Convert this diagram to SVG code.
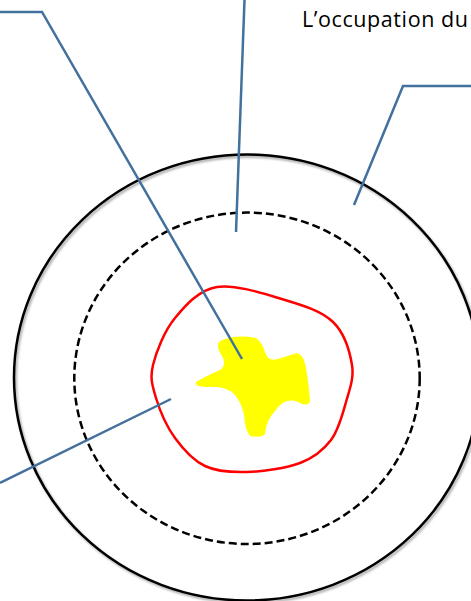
<svg xmlns="http://www.w3.org/2000/svg" width="471" height="601" viewBox="0 0 471 601">
  <defs>
    <filter id="shadow" x="-10%" y="-10%" width="120%" height="120%">
      <feDropShadow dx="1.5" dy="2" stdDeviation="1.2" flood-color="#000" flood-opacity="0.35"/>
    </filter>
  </defs>
  <style>
    .outer { fill: none; stroke: #000; stroke-width: 2.5; }
    .dashed { fill: none; stroke: #000; stroke-width: 2.5; stroke-dasharray: 8 4; }
    .zone { fill: none; stroke: #ff0000; stroke-width: 2.5; }
    .blob { fill: #ffff00; stroke: none; }
    .leader { fill: none; stroke: #41719c; stroke-width: 2.5; stroke-linejoin: miter; }
    .label { font-family: "Open Sans", "Liberation Sans", sans-serif; font-size: 21.5px; fill: #000; }
  </style>
  <rect width="471" height="601" fill="#fff"/>

  <g id="outer-circle">
    <ellipse class="outer" cx="247" cy="377.5" rx="233" ry="223" filter="url(#shadow)"/>
  </g>

  <g id="dashed-circle">
    <ellipse class="dashed" cx="247" cy="378.3" rx="172.7" ry="165.7"/>
  </g>

  <g id="red-zone">
    <path class="zone" d="M217 287 C235.3 284 265.7 294.2 285 300 C304.3 305.8 321.8 311.2 333 322 C344.2 332.8 349.8 351.7 352 365 C354.2 378.3 349.5 389.5 346 402 C342.5 414.5 338.7 429.8 331 440 C323.3 450.2 314 457.7 300 463 C286 468.3 262.8 471.5 247 472 C231.2 472.5 217 471.7 205 466 C193 460.3 183.2 449.3 175 438 C166.8 426.7 159.7 410.2 156 398 C152.3 385.8 149.8 378.3 153 365 C156.2 351.7 164.3 331 175 318 C185.7 305 198.7 290 217 287 Z"/>
  </g>

  <g id="yellow-blob">
    <path class="blob" d="M220 341 Q236 334 256 338 Q262 342 265 352 Q268 362 278 359 L297 353 Q304 355 306 368 Q309 385 310 402 Q307 407 298 402 Q285 397 276 410 Q266 420 265 434 Q262 438 250 436 Q245 430 244 415 Q241 400 232 392 Q222 386 208 387 Q194 387 196 382 Q204 377 220 370 Q227 365 222 356 Q215 345 220 341 Z"/>
  </g>

  <g id="label-top-right">
    <text class="label" x="302" y="26.5" textLength="166" lengthAdjust="spacing">L’occupation du</text>
  </g>

  <g id="connectors">
    <polyline class="leader" points="0,12 42,12 242,359"/>
    <line class="leader" x1="244.5" y1="0" x2="236" y2="232"/>
    <polyline class="leader" points="471,86 403,86 354,205"/>
    <line class="leader" x1="0" y1="483" x2="171" y2="399"/>
  </g>
</svg>
